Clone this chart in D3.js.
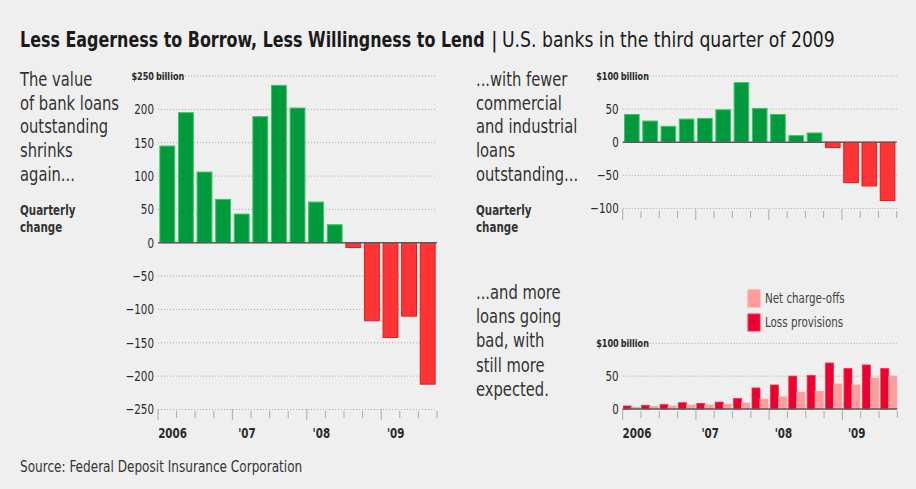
<!DOCTYPE html>
<html>
<head>
<meta charset="utf-8">
<script src="https://cdn.jsdelivr.net/npm/d3@7"></script>
<style>
  html, body { margin: 0; padding: 0; background: #efefef; }
  svg { display: block; }
  text { font-family: "DejaVu Sans Condensed", "DejaVu Sans", sans-serif; fill: #2a2a2a; }
</style>
</head>
<body>
<svg id="chart" width="916" height="489"></svg>
<script>
// quarters 2006 Q1 .. 2009 Q3
var quarters = ["2006Q1", "2006Q2", "2006Q3", "2006Q4", "2007Q1", "2007Q2", "2007Q3", "2007Q4",
                "2008Q1", "2008Q2", "2008Q3", "2008Q4", "2009Q1", "2009Q2", "2009Q3"];
var yearLabels = [{q: "2006Q1", label: "2006"}, {q: "2007Q1", label: "'07"},
                  {q: "2008Q1", label: "'08"}, {q: "2009Q1", label: "'09"}];

// $ billion, quarterly change
var loanChange = [145, 195, 106, 65, 43, 189, 236, 202, 61, 27, -7, -117, -142, -110, -212];
var ciLoanChange = [42, 32, 24, 35, 36, 49, 90, 51, 42, 10, 14, -8, -61, -66, -88];
// $ billion
var lossProvisions = [4.6, 5.7, 6.6, 9.6, 8.5, 10.5, 16, 32, 36.5, 50, 51, 70, 61.5, 67, 61.5];
var netChargeOffs = [2.5, 3.6, 4.6, 6, 6, 6.6, 9, 15, 18.5, 25.5, 26.5, 38, 36.5, 47, 50];

var leftTicks = [250, 200, 150, 100, 50, 0, -50, -100, -150, -200, -250];
var ciTicks = [100, 50, 0, -50, -100];
var lossTicks = [100, 50, 0];

var svg = d3.select("#chart");

var fmt = function(v) { return v < 0 ? "\u2212" + Math.abs(v) : String(v); };

// squeeze a text horizontally (no condensed font installed)
// k is a factor, or a function giving the factor from the natural width
function squeeze(sel, k) {
  sel.each(function() {
    var t = d3.select(this);
    var f = typeof k === "function" ? k(this.getComputedTextLength()) : k;
    var x = +t.attr("x") || 0, y = +t.attr("y") || 0;
    t.attr("x", 0).attr("y", 0)
      .attr("transform", "translate(" + x + "," + y + ") scale(" + f + ",1)");
  });
}

// title
var t1 = svg.append("text").attr("x", 20).attr("y", 47)
  .style("font-size", "21px").style("font-weight", "bold").style("fill", "#1a1a1a")
  .text("Less Eagerness to Borrow, Less Willingness to Lend");
var t2 = svg.append("text").attr("x", 491).attr("y", 47)
  .style("font-size", "22px").style("fill", "#1a1a1a").text("|");
var t3 = svg.append("text").attr("x", 502).attr("y", 47)
  .style("font-size", "21px").style("fill", "#1a1a1a")
  .text("U.S. banks in the third quarter of 2009");
squeeze(t1, function(w) { return 465 / w; });
squeeze(t3, function(w) { return 333 / w; });

// side notes, one text per line
var notes = svg.append("g").attr("class", "notes");
function note(x, y, lines, size, bold, lh) {
  notes.selectAll(null).data(lines).enter().append("text")
    .attr("x", x).attr("y", function(d, i) { return y + i * lh; })
    .style("font-size", size + "px").style("font-weight", bold ? "bold" : "normal")
    .style("fill", "#333")
    .text(function(d) { return d; });
}
note(20, 86, ["The value", "of bank loans", "outstanding", "shrinks", "again..."], 20, false, 23.7);
note(20, 215, ["Quarterly", "change"], 14, true, 16.5);
note(476, 86, ["...with fewer", "commercial", "and industrial", "loans", "outstanding..."], 20, false, 23.7);
note(476, 215, ["Quarterly", "change"], 14, true, 16.5);
note(476, 299, ["...and more", "loans going", "bad, with", "still more", "expected."], 20, false, 24.2);

var source = svg.append("text").attr("x", 20).attr("y", 472)
  .style("font-size", "16px").style("fill", "#333")
  .text("Source: Federal Deposit Insurance Corporation");

// one panel: gridlines, y labels, quarter ticks, optional year labels
function panel(g, x0, x1, y, ticks, tickY, showYears) {
  var x = d3.scaleBand().domain(quarters).range([x0, x1]).paddingInner(0.2).paddingOuter(0.1);
  var step = x.step();

  g.selectAll(".grid").data(ticks.filter(function(d) { return d !== 0; })).enter().append("line")
    .attr("class", "grid")
    .attr("x1", x0).attr("x2", x1)
    .attr("y1", function(d) { return y(d); }).attr("y2", function(d) { return y(d); })
    .attr("stroke", "#9a9a9a").attr("stroke-width", 0.8).attr("stroke-dasharray", "1,2");

  g.selectAll(".ylab").data(ticks).enter().append("text")
    .attr("class", "ylab")
    .attr("x", x0 - 4).attr("y", function(d) { return y(d); }).attr("dy", "0.35em")
    .attr("text-anchor", "end")
    .style("font-size", function(d, i) { return i === 0 ? "11px" : "14px"; })
    .style("font-weight", function(d, i) { return i === 0 ? "bold" : "normal"; })
    .text(function(d, i) { return i === 0 ? "$" + d : fmt(d); });
  g.append("text").attr("class", "ylab").attr("x", x0 - 2).attr("y", y(ticks[0])).attr("dy", "0.35em")
    .style("font-size", "11px").style("font-weight", "bold").text("billion");

  // quarter ticks at band boundaries
  var edges = d3.range(quarters.length + 1).map(function(i) { return x0 + i * step; });
  g.selectAll(".qtick").data(edges).enter().append("line")
    .attr("class", "qtick")
    .attr("x1", function(d) { return d; }).attr("x2", function(d) { return d; })
    .attr("y1", function(d, i) { return i % 4 === 0 ? tickY - 1 : tickY + 1; })
    .attr("y2", function(d, i) { return i % 4 === 0 ? tickY + 10 : tickY + 8; })
    .attr("stroke", "#999").attr("stroke-width", 0.8);

  if (showYears) {
    g.selectAll(".year").data(yearLabels).enter().append("text")
      .attr("class", "year")
      .attr("x", function(d) { return x(d.q) - step * 0.1 + step * 0.78; })
      .attr("y", tickY + 28)
      .attr("text-anchor", "middle")
      .style("font-size", "14px").style("font-weight", "bold")
      .text(function(d) { return d.label; });
  }
  return x;
}

function signedBars(g, x, y, values) {
  g.selectAll(".bar").data(values).enter().append("rect")
    .attr("class", "bar")
    .attr("x", function(d, i) { return x(quarters[i]); })
    .attr("width", x.bandwidth())
    .attr("y", function(d) { return y(Math.max(0, d)); })
    .attr("height", function(d) { return Math.abs(y(d) - y(0)); })
    .attr("fill", function(d) { return d >= 0 ? "#009a3c" : "#ff3535"; })
    .attr("stroke", function(d) { return d >= 0 ? "#3fc46a" : "#e01c1c"; })
    .attr("stroke-width", 1);
  g.append("line")
    .attr("x1", x.range()[0]).attr("x2", x.range()[1])
    .attr("y1", y(0)).attr("y2", y(0))
    .attr("stroke", "#5a5a5a").attr("stroke-width", 1.6);
}

// left: all loans
var gL = svg.append("g");
var yL = d3.scaleLinear().domain([-250, 250]).range([409.5, 76]);
var xL = panel(gL, 158, 437, yL, leftTicks, 410, true);
signedBars(gL, xL, yL, loanChange);

// top right: C&I loans
var gC = svg.append("g");
var yC = d3.scaleLinear().domain([-100, 100]).range([208.5, 76]);
var xC = panel(gC, 622.7, 896.7, yC, ciTicks, 210, false);
signedBars(gC, xC, yC, ciLoanChange);

// bottom right: charge-offs and provisions
var gP = svg.append("g");
var yP = d3.scaleLinear().domain([0, 100]).range([409, 343.3]);
var xP = panel(gP, 622.7, 897.3, yP, lossTicks, 410, true);
xP.paddingInner(0.13).paddingOuter(0.03);
var series = [
  {name: "Loss provisions", values: lossProvisions, fill: "#ec0033", stroke: "#ff2a3a"},
  {name: "Net charge-offs", values: netChargeOffs, fill: "#ff9c9c", stroke: "#ff9c9c"}
];
var xs = d3.scaleBand().domain(series.map(function(s) { return s.name; })).range([0, xP.bandwidth()]);

gP.selectAll(".series").data(series).enter().append("g")
  .attr("class", "series")
  .each(function(s) {
    d3.select(this).selectAll("rect").data(s.values).enter().append("rect")
      .attr("x", function(d, i) { return xP(quarters[i]) + xs(s.name); })
      .attr("width", xs.bandwidth())
      .attr("y", function(d) { return yP(d); })
      .attr("height", function(d) { return yP(0) - yP(d); })
      .attr("fill", s.fill).attr("stroke", s.stroke).attr("stroke-width", 0.8);
  });
gP.append("line")
  .attr("x1", 622.7).attr("x2", 897.3).attr("y1", yP(0)).attr("y2", yP(0))
  .attr("stroke", "#5a5a5a").attr("stroke-width", 1.6);

// legend
var legend = svg.append("g").attr("transform", "translate(748,290)");
var legendItems = legend.selectAll("g").data(series.slice().reverse()).enter().append("g")
  .attr("transform", function(d, i) { return "translate(0," + i * 24 + ")"; });
legendItems.append("rect").attr("width", 12).attr("height", 17)
  .attr("fill", function(d) { return d.fill; }).attr("stroke", function(d) { return d.stroke; });
legendItems.append("text").attr("class", "leg").attr("x", 17).attr("y", 13)
  .style("font-size", "14px").style("fill", "#444")
  .text(function(d) { return d.name; });

squeeze(notes.selectAll("text"), 0.82);
squeeze(source, 0.84);
squeeze(svg.selectAll(".ylab, .year, .leg"), 0.82);
</script>
</body>
</html>
